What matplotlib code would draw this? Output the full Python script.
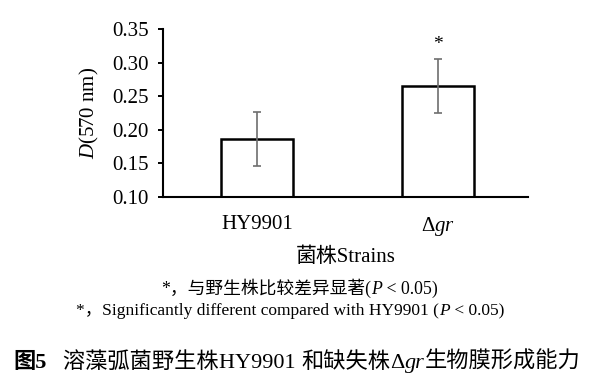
import matplotlib
matplotlib.use("Agg")
import matplotlib.pyplot as plt
from matplotlib.offsetbox import TextArea, HPacker, AnnotationBbox

# data
strains = ["HY9901", r"Δ$\mathit{gr}$"]
means = [0.186, 0.265]
errs = [0.040, 0.040]
signif = ["", "*"]

plt.rcParams["mathtext.fontset"] = "custom"
plt.rcParams["mathtext.rm"] = "Liberation Serif"
plt.rcParams["mathtext.it"] = "Liberation Serif:italic"
SERIF = ["Liberation Serif", "Noto Sans CJK SC"]
plt.rcParams["font.family"] = SERIF

fig = plt.figure(figsize=(5.96, 3.86), dpi=100)
W, H = 596, 386
ax = fig.add_axes([163 / W, 1 - 197 / H, (528 - 163) / W, (197 - 29) / H])

x = list(range(len(strains)))
ax.bar(x, means, width=0.40, bottom=0, color="white", edgecolor="black",
       linewidth=1.8, zorder=2)
ax.errorbar(x, means, yerr=errs, fmt="none", ecolor="#6e6e6e",
            elinewidth=1.2, capsize=3.2, capthick=1.2, zorder=3)
for xi, m, e, s in zip(x, means, errs, signif):
    if s:
        ax.text(xi, m + e + 0.022, s, ha="center", va="center", fontsize=14)

ax.set_xlim(-0.52, 1.50)
ax.set_ylim(0.10, 0.35)
ax.set_yticks([0.10, 0.15, 0.20, 0.25, 0.30, 0.35])
ax.set_yticklabels(["0.10", "0.15", "0.20", "0.25", "0.30", "0.35"])
ax.set_xticks(x)
ax.set_xticklabels(strains)
ax.tick_params(axis="y", direction="out", length=3.5, width=1.4, pad=7,
               labelsize=15)
ax.tick_params(axis="x", length=0, pad=13, labelsize=15)
for side in ["top", "right"]:
    ax.spines[side].set_visible(False)
for side in ["left", "bottom"]:
    ax.spines[side].set_linewidth(1.5)

ax.set_ylabel(r"$\mathit{D}$(570 nm)", fontsize=15, labelpad=8)
ax.set_xlabel("菌株Strains", fontsize=15, labelpad=7)


def text_line(pieces, xy, align):
    boxes = [TextArea(s, textprops=p) for s, p in pieces]
    pk = HPacker(children=boxes, align="baseline", pad=0, sep=0)
    ab = AnnotationBbox(pk, xy, xycoords="figure fraction", frameon=False,
                        box_alignment=align, pad=0)
    fig.add_artist(ab)


cn = dict(family=SERIF, fontsize=12.8)
en = dict(family=SERIF, fontsize=12.8)
en_it = dict(family=SERIF, fontsize=12.8, style="italic")
en2 = dict(family=SERIF, fontsize=12.5)
en2_it = dict(family=SERIF, fontsize=12.5, style="italic")

text_line([("*，与野生株比较差异显著(", cn), ("P", en_it), (" < 0.05)", en)],
          (299 / W, 1 - 288 / H), (0.5, 0.5))
text_line([("*，Significantly different compared with HY9901 (", en2),
           ("P", en2_it), (" < 0.05)", en2)],
          (290 / W, 1 - 311 / H), (0.5, 0.5))

cap = dict(family=SERIF, fontsize=16)
cap_b = dict(family=SERIF, fontsize=16, weight="bold")
cap_it = dict(family=SERIF, fontsize=16, style="italic")
text_line([("图5", cap_b), ("   溶藻弧菌野生株", cap), ("HY9901 ", cap),
           ("和缺失株", cap), ("Δ", cap), ("gr", cap_it),
           ("生物膜形成能力", cap)],
          (13 / W, 1 - 362 / H), (0.0, 0.5))

fig.savefig("out.png", dpi=100, facecolor="white")
